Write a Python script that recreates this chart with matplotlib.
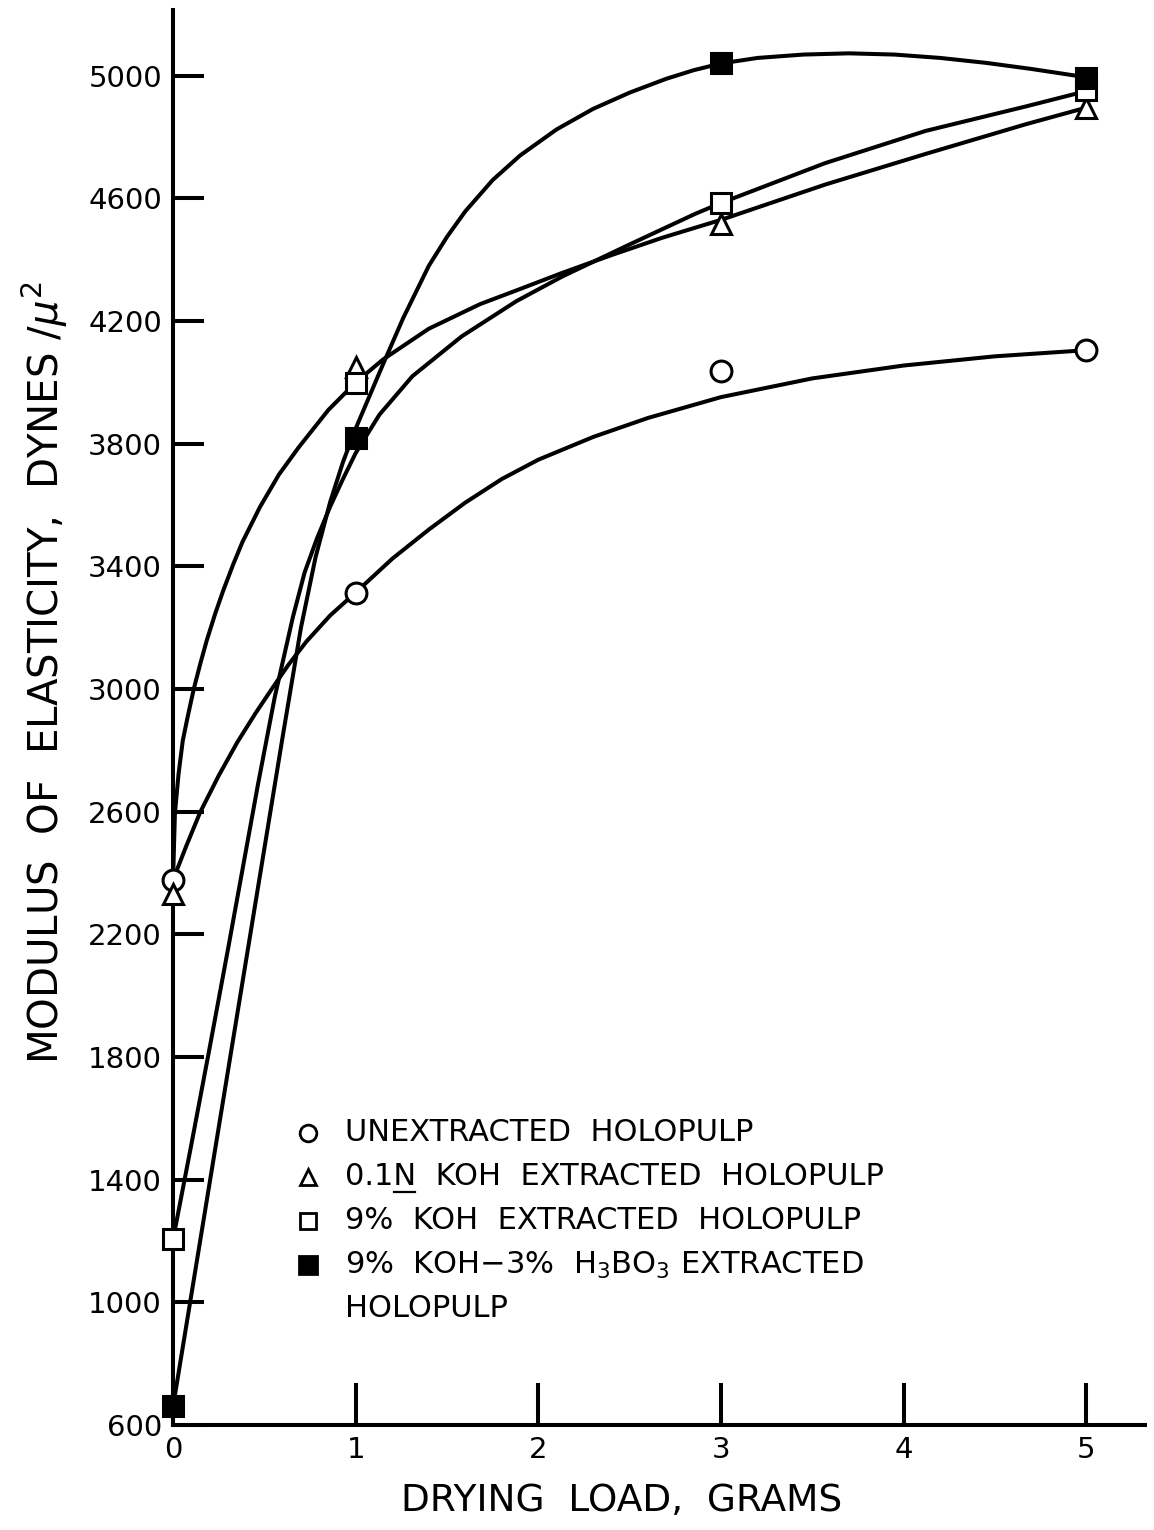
import numpy as np
import matplotlib
matplotlib.use("Agg")
import matplotlib.pyplot as plt
from matplotlib.lines import Line2D

plt.rcParams["font.family"] = ["DejaVu Sans"]
plt.rcParams["mathtext.fontset"] = "dejavusans"

# measured points (drying load in grams vs modulus, dynes/micron^2)
load_g = [0, 1, 3, 5]
unextracted = [2378, 3312, 4037, 4105]
koh_01n = [2332, 4050, 4517, 4896]
koh_9pct = [1206, 3998, 4585, 4954]
koh_boric = [661, 3818, 5042, 4993]

# hand-drawn curves
unext_curve_x = [0, 0.07, 0.148, 0.25, 0.35, 0.45, 0.54, 0.63, 0.73, 0.86, 1.0, 1.2, 1.4,
                 1.6, 1.8, 2.0, 2.3, 2.6, 3.0, 3.5, 4.0, 4.5, 5.0]
unext_curve_y = [2378, 2485, 2598, 2718, 2825, 2920, 3000, 3078, 3155, 3240, 3315, 3425, 3520,
                 3608, 3685, 3748, 3822, 3884, 3952, 4013, 4055, 4085, 4105]

koh01n_curve_x = [0, 0.01, 0.03, 0.053, 0.08, 0.113, 0.15, 0.184, 0.23, 0.275, 0.33, 0.38,
                  0.475, 0.58, 0.69, 0.85, 1.0, 1.15, 1.4, 1.68, 1.88, 2.13, 2.4, 2.68, 3.0,
                  3.57, 4.12, 4.67, 5.0]
koh01n_curve_y = [2385, 2595, 2724, 2832, 2910, 3000, 3085, 3158, 3245, 3322, 3408, 3480,
                  3593, 3700, 3790, 3910, 4000, 4075, 4175, 4255, 4300, 4357, 4415, 4472, 4530,
                  4645, 4745, 4842, 4896]

koh9_curve_x = [0, 0.1, 0.2, 0.3, 0.355, 0.41, 0.465, 0.557, 0.656, 0.72, 0.787, 0.86, 0.93,
                1.0, 1.13, 1.31, 1.58, 1.88, 2.13, 2.5, 2.86, 3.0, 3.57, 4.12, 4.67, 5.0]
koh9_curve_y = [1206, 1515, 1830, 2150, 2330, 2510, 2690, 2975, 3235, 3380, 3490, 3595, 3685,
                3770, 3895, 4020, 4150, 4265, 4345, 4450, 4550, 4585, 4715, 4820, 4900, 4950]

boric_curve_x = [0, 0.24, 0.475, 0.6, 0.7, 0.78, 0.86, 0.93, 1.0, 1.15, 1.26, 1.4, 1.5, 1.6,
                 1.75, 1.9, 2.1, 2.3, 2.5, 2.7, 2.85, 3.0, 3.2, 3.45, 3.7, 3.95, 4.2, 4.45,
                 4.7, 5.0]
boric_curve_y = [661, 1535, 2390, 2845, 3200, 3430, 3610, 3740, 3850, 4060, 4210, 4380, 4475,
                 4558, 4660, 4740, 4825, 4892, 4945, 4990, 5018, 5040, 5058, 5069, 5073, 5069,
                 5058, 5042, 5022, 4995]

x_ticks = [0, 1, 2, 3, 4, 5]
y_ticks = [600, 1000, 1400, 1800, 2200, 2600, 3000, 3400, 3800, 4200, 4600, 5000]

legend_labels = [
    "UNEXTRACTED  HOLOPULP",
    "0.1N  KOH  EXTRACTED  HOLOPULP",
    "9%  KOH  EXTRACTED  HOLOPULP",
    r"9%  KOH$-$3%  H$_3$BO$_3$ EXTRACTED",
]

LW = 2.9
LEG_FS = 22
fig = plt.figure(figsize=(11.54, 15.30), dpi=100)
ax = fig.add_axes([0.150, 0.0686, 0.842, 0.925])

for cx, cy in [(unext_curve_x, unext_curve_y), (koh01n_curve_x, koh01n_curve_y),
               (koh9_curve_x, koh9_curve_y), (boric_curve_x, boric_curve_y)]:
    ax.plot(cx, cy, color="black", lw=LW, solid_capstyle="round",
            solid_joinstyle="round", zorder=2)

mk = dict(linestyle="none", mec="black", mew=2.2, zorder=4, clip_on=False)
ax.plot(load_g, unextracted, marker="o", ms=15, mfc="white", **mk)
ax.plot(load_g, koh_01n, marker="^", ms=14, mfc="white", **mk)
ax.plot(load_g, koh_9pct, marker="s", ms=14, mfc="white", **mk)
ax.plot(load_g, koh_boric, marker="s", ms=15, mfc="black", **mk)

# legend drawn by hand so the two-line entry lines up like the original
leg_y = [0.2064, 0.1753, 0.1442, 0.1131]
leg_marks = [("o", "white", 12), ("^", "white", 12), ("s", "white", 12), ("s", "black", 13)]
texts = []
for yy, (m, fc, s), lab in zip(leg_y, leg_marks, legend_labels):
    ax.plot([0.139], [yy], marker=m, ms=s, mfc=fc, mec="black", mew=2.0,
            transform=ax.transAxes, linestyle="none")
    texts.append(ax.text(0.177, yy, lab, transform=ax.transAxes, fontsize=LEG_FS,
                         va="center", ha="left"))
ax.text(0.177, 0.0820, "HOLOPULP", transform=ax.transAxes, fontsize=LEG_FS,
        va="center", ha="left")

ax.set_xlim(0, 5.32)
ax.set_ylim(600, 5215)
ax.set_xticks(x_ticks)
ax.set_yticks(y_ticks)
ax.tick_params(direction="in", length=22, width=LW, labelsize=21, pad=8)
ax.tick_params(axis="x", length=30)
for side in ["top", "right"]:
    ax.spines[side].set_visible(False)
for side in ["left", "bottom"]:
    ax.spines[side].set_linewidth(LW)

ax.set_ylabel(r"MODULUS  OF  ELASTICITY,  DYNES $/\mu^2$", fontsize=29)
ax.yaxis.set_label_coords(-0.106, 0.532)
ax.set_xlabel("DRYING  LOAD,  GRAMS", fontsize=27)
ax.xaxis.set_label_coords(0.462, -0.041)

# underline the N of "0.1N" (normality)
fig.canvas.draw()
rend = fig.canvas.get_renderer()
t = texts[1]
tmp = ax.text(0.177, leg_y[1], "0.1", transform=ax.transAxes, fontsize=LEG_FS,
              va="center", ha="left")
tmp2 = ax.text(0.177, leg_y[1], "0.1N", transform=ax.transAxes, fontsize=LEG_FS,
               va="center", ha="left")
b1 = tmp.get_window_extent(rend)
b2 = tmp2.get_window_extent(rend)
bt = t.get_window_extent(rend)
tmp.remove()
tmp2.remove()
W, H = fig.bbox.width, fig.bbox.height
uy = (bt.y0 - 1) / H
fig.add_artist(Line2D([(b1.x1 + 1) / W, (b2.x1 - 1) / W], [uy, uy],
                      transform=fig.transFigure, color="black", lw=1.6))

fig.savefig("out.png", dpi=100)
